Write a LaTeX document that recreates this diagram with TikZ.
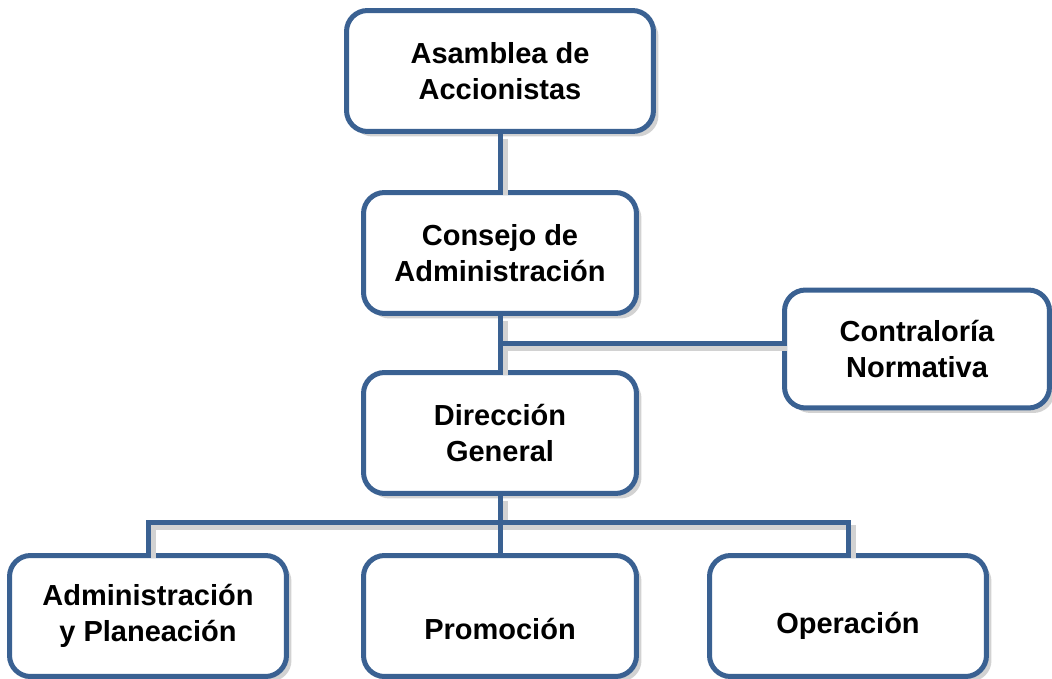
\documentclass[tikz,border=0pt]{standalone}
\usepackage{fontspec}
\setmainfont{Liberation Sans}
\usetikzlibrary{calc,shadows}
\definecolor{azulorg}{HTML}{3A6192}
\definecolor{sombra}{HTML}{D2D2D2}
\tikzset{
  caja/.style={rectangle,draw=azulorg,line width=0.1cm,fill=white,rounded corners=0.42cm,
    minimum height=2.42cm,align=center,font=\fontsize{16.5}{20.5}\selectfont\bfseries,
    drop shadow={shadow xshift=0.1cm,shadow yshift=-0.1cm,fill=sombra,opacity=1}},
  bajo/.style={text height=#1},
  linea/.style={draw=azulorg,line width=0.1cm},
  lineasombra/.style={draw=sombra,line width=0.1cm,transform canvas={shift={(0.1cm,-0.1cm)}}}
}
\begin{document}
\begin{tikzpicture}[x=0.02cm,y=-0.02cm]
\useasboundingbox (0,0) rectangle (1052,679);
% cajas
\node[caja,minimum width=6.14cm] (asamblea) at (500,71) {Asamblea de\\Accionistas};
\node[caja,minimum width=5.46cm] (consejo) at (500,253) {Consejo de\\Administración};
\node[caja,minimum width=5.3cm,minimum height=2.36cm] (contraloria) at (917,349) {Contraloría\\Normativa};
\node[caja,minimum width=5.46cm] (direccion) at (500,433) {Dirección\\General};
\node[caja,minimum width=5.54cm] (admin) at (148,616) {Administración\\y Planeación};
\node[caja,minimum width=5.46cm,bajo=0.95cm] (promocion) at (500,616) {Promoción};
\node[caja,minimum width=5.54cm,bajo=0.82cm] (operacion) at (848,616) {Operación};
% puntos de union
\coordinate (mid) at ($(consejo.south)!0.5!(direccion.north)$);
\coordinate (bus) at ($(direccion.south)+(0,27)$);
% sombras de las lineas
\draw[lineasombra] (asamblea.south) -- (consejo.north);
\draw[lineasombra] (consejo.south) -- (direccion.north);
\draw[lineasombra] (mid) -- (mid -| contraloria.west);
\draw[lineasombra] (direccion.south) -- (bus);
\draw[lineasombra] (admin.north) |- (bus -| operacion.north) -- (operacion.north);
% lineas
\draw[linea] (asamblea.south) -- (consejo.north);
\draw[linea] (consejo.south) -- (direccion.north);
\draw[linea] (mid) -- (mid -| contraloria.west);
\draw[linea] (direccion.south) -- (promocion.north);
\draw[linea] (admin.north) |- (bus -| operacion.north) -- (operacion.north);
\end{tikzpicture}
\end{document}
